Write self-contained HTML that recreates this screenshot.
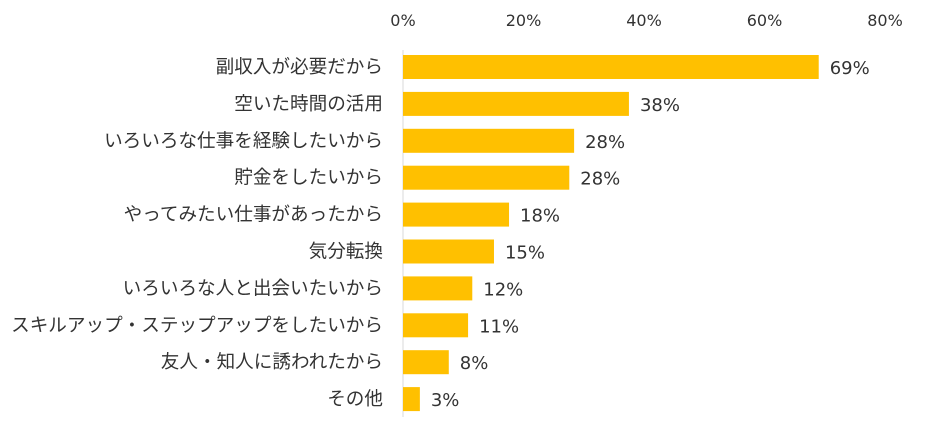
<!DOCTYPE html>
<html><head><meta charset="utf-8"><style>
html,body{margin:0;padding:0;background:#fff;}
svg{display:block;font-family:"Liberation Sans","Noto Sans CJK JP",sans-serif;}
.num{font-family:"DejaVu Sans","Liberation Sans",sans-serif;}
</style></head><body>
<svg id="chart" width="928" height="423"></svg>
<script>
const categories=["副収入が必要だから","空いた時間の活用","いろいろな仕事を経験したいから","貯金をしたいから","やってみたい仕事があったから","気分転換","いろいろな人と出会いたいから","スキルアップ・ステップアップをしたいから","友人・知人に誘われたから","その他"];
const values=[69.0,37.5,28.4,27.6,17.6,15.1,11.5,10.8,7.6,2.8];
const valueLabels=["69%","38%","28%","28%","18%","15%","12%","11%","8%","3%"];
const ticks=[0,20,40,60,80];
const tickLabels=["0%","20%","40%","60%","80%"];
const svg=document.getElementById('chart');
const NS="http://www.w3.org/2000/svg";
const x0=403,pxPer=6.025;
function xs(v){return x0+v*pxPer;}
function yc(i){return 67+i*36.9;}
function mk(t,a){const e=document.createElementNS(NS,t);for(const k in a)e.setAttribute(k,a[k]);svg.appendChild(e);return e;}
ticks.forEach((t,i)=>{const e=mk('text',{x:xs(t),y:26,'text-anchor':'middle','font-size':16,fill:'#333',class:'num'});e.textContent=tickLabels[i];

});
const ax=mk('line',{x1:x0,y1:50,x2:x0,y2:417,stroke:'#d9d9d9','stroke-width':1});


categories.forEach((c,i)=>{
const l=mk('text',{x:383,y:yc(i)+6,'text-anchor':'end','font-size':18.6,fill:'#333'});l.textContent=c;


const b=mk('rect',{x:x0,y:yc(i)-12,width:xs(values[i])-x0,height:24,fill:'#ffc000'});


const v=mk('text',{x:xs(values[i])+11,y:yc(i)+7,'font-size':18,fill:'#333',class:'num'});v.textContent=valueLabels[i];


});
</script>
</body></html>
